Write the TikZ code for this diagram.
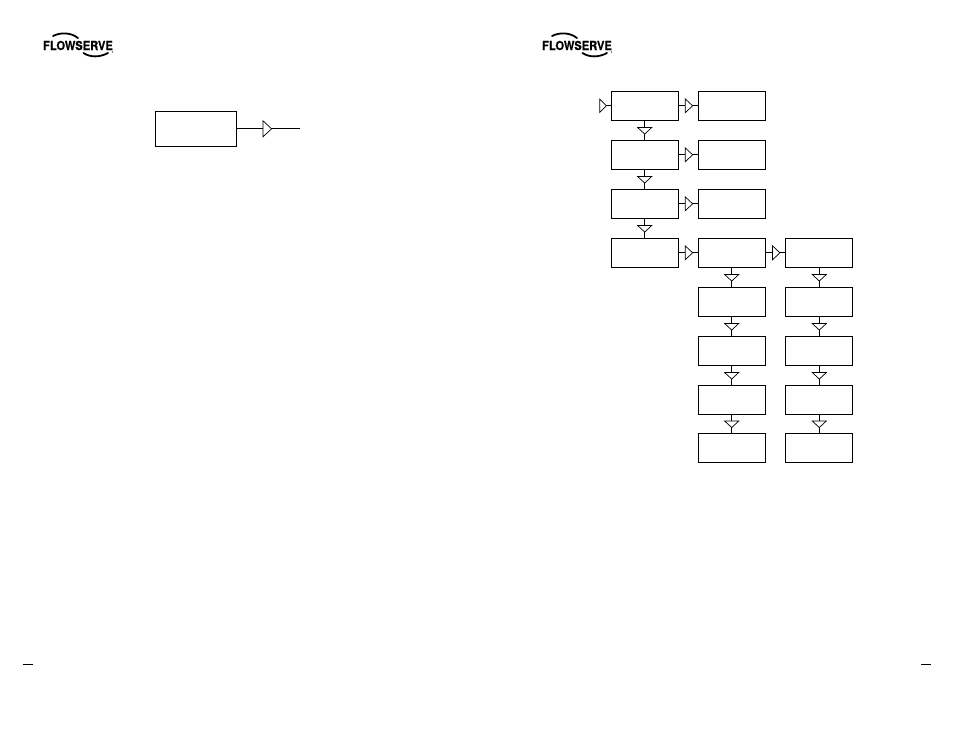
\documentclass[tikz,border=0pt]{standalone}
\usepackage{fontspec}
\newfontfamily\logofont[BoldFeatures={FakeBold=0.4,FakeStretch=0.9}]{TeX Gyre Heros}
\usetikzlibrary{positioning, shapes.geometric}

\begin{document}
\begin{tikzpicture}[x=1pt, y=-1pt,
        blk/.style={draw, minimum width=67pt, minimum height=29pt, inner sep=0pt, outer sep=0pt, line width=0.95pt},
        arrtri/.style={draw, fill=white, isosceles triangle, isosceles triangle stretches, minimum width=14pt, inner sep=0pt, outer sep=0pt, line width=0.7pt},
        triright/.style={arrtri, minimum height=7.5pt, shape border rotate=0},
        tridown/.style={arrtri, minimum height=6.5pt, shape border rotate=-90},
        conn/.style={line width=0.95pt},
        tick/.style={line width=0.95pt},
        logotext/.style={font=\logofont\bfseries\fontsize{12.4}{13}\selectfont, inner sep=0pt},
        logoarc/.style={line width=1.8pt, line cap=round},
        pics/logo/.style={code={
            \node[logotext] (-name) at (0,0) {FLOWSERVE};
            \draw[logoarc] (-25,-9.5) .. controls (-17,-13.5) and (-7,-13) .. (0,-7.5);
            \draw[logoarc] (5.5,7.5) .. controls (12,12) and (22,12) .. (30,7.5);
            \fill (34.5,6.5) circle (0.6);
        }}]
      \useasboundingbox (0,0) rectangle (954,737);

      % logos and page ticks
      \pic (logol) at (78,45.5) {logo};
      \pic (logor) at (577,45.5) {logo};
      \coordinate (tickla) at (23,664.3);
      \coordinate (ticklb) at (33,664.3);
      \coordinate (tickra) at (921,664.3);
      \coordinate (tickrb) at (931,664.3);
      \draw[tick] (tickla) -- (ticklb);
      \draw[tick] (tickra) -- (tickrb);

      % left page
      \node[blk, minimum width=81.5pt, minimum height=35pt] at (196,128.8) (single) {};
      \coordinate (singleout) at (300,128.8);
      \draw[conn] (single) -- node[triright, pos=0.47, minimum width=16pt, minimum height=8.5pt] (singletri) {} (singleout);

      % right page, first column
      \node[blk] at (644.7,105.8) (a1) {};
      \node[blk, below=20pt of a1] (a2) {};
      \node[blk, below=20pt of a2] (a3) {};
      \node[blk, below=20pt of a3] (a4) {};

      % second column
      \node[blk, right=20pt of a1] (b1) {};
      \node[blk, right=20pt of a2] (b2) {};
      \node[blk, right=20pt of a3] (b3) {};
      \node[blk, right=20pt of a4] (b4) {};
      \node[blk, below=20pt of b4] (b5) {};
      \node[blk, below=20pt of b5] (b6) {};
      \node[blk, below=20pt of b6] (b7) {};
      \node[blk, below=19pt of b7] (b8) {};

      % third column
      \node[blk, right=20.6pt of b4] (c4) {};
      \node[blk, below=20pt of c4] (c5) {};
      \node[blk, below=20pt of c5] (c6) {};
      \node[blk, below=20pt of c6] (c7) {};
      \node[blk, below=19pt of c7] (c8) {};

      % entry triangle
      \node[triright, minimum width=13pt, minimum height=6.5pt] at (602.5,105.8) (entry) {};
      \draw[conn] (entry.apex) -- (a1);

      % horizontal links
      \foreach \i in {1,...,4} {
        \draw[conn] (a\i) -- node[triright] (ab\i) {} (b\i);
      }
      \draw[conn] (b4) -- node[triright] (bc4) {} (c4);

      % vertical links
      \foreach \i [count=\j from 2] in {1,2,3} {
        \draw[conn] (a\i) -- node[tridown] (aa\i) {} (a\j);
      }
      \foreach \i [count=\j from 5] in {4,...,7} {
        \draw[conn] (b\i) -- node[tridown] (bb\i) {} (b\j);
        \draw[conn] (c\i) -- node[tridown] (cc\i) {} (c\j);
      }
    \end{tikzpicture}
\end{document}
